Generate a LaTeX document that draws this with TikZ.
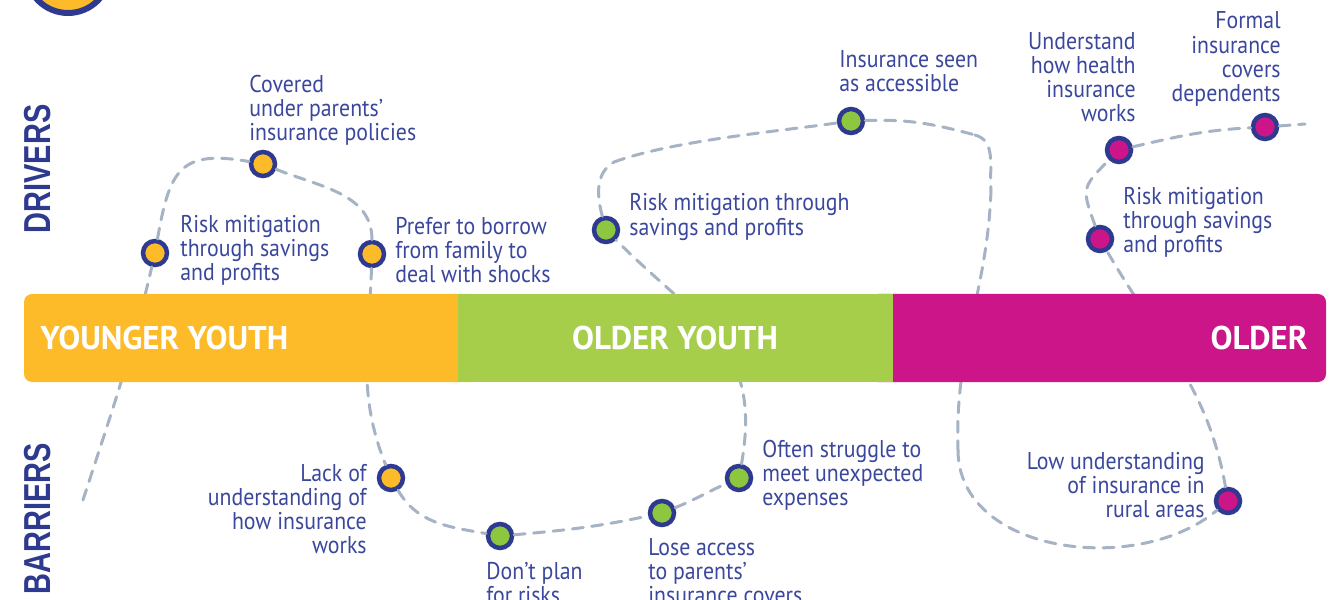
\documentclass[tikz,border=0pt]{standalone}
\usepackage{fontspec}
\setmainfont{PT Sans}[FakeStretch=0.9]
\newfontfamily\bandfont{PT Sans}
\newfontfamily\sidefont{Liberation Sans}[FakeStretch=0.77]
\usepackage{xcolor}
\definecolor{ringblue}{HTML}{2E3A8F}
\definecolor{textblue}{HTML}{3A479C}
\definecolor{dashgray}{HTML}{A5B3C4}
\definecolor{yyellow}{HTML}{FDBB2A}
\definecolor{ggreen}{HTML}{A6CE4B}
\definecolor{dotgreen}{HTML}{8DC63F}
\definecolor{mmagenta}{HTML}{CB1589}

\begin{document}
\begin{tikzpicture}[-, x=0.02cm, y=0.02cm,
  main node/.style={circle, draw=ringblue, line width=0.09cm, minimum size=0.48cm, inner sep=0pt},
  text node/.style={text=textblue, inner sep=0pt, font=\fontsize{13.8}{13.7}\selectfont},
  band node/.style={text=white, inner sep=0pt, font=\bandfont\bfseries\fontsize{18.7}{20}\selectfont},
  side node/.style={text=ringblue, inner sep=0pt, rotate=90, font=\sidefont\bfseries\fontsize{21.4}{24}\selectfont},
  route/.style={color=dashgray, line width=0.06cm, dash pattern=on 0.22cm off 0.17cm, line cap=round}]
\clip (0,0) rectangle (1342,599);
\node[circle, draw=ringblue, fill=yyellow, line width=0.12cm, minimum size=1.68cm] (0) at (68,628) {};
% drivers and barriers
\node[main node, fill=yyellow] (1) at (155,346) {};
\node[main node, fill=yyellow] (2) at (263,435) {};
\node[main node, fill=yyellow] (3) at (372,345) {};
\node[main node, fill=yyellow] (4) at (391,121) {};
\node[main node, fill=dotgreen] (5) at (500,63) {};
\node[main node, fill=dotgreen] (6) at (662,86) {};
\node[main node, fill=dotgreen] (7) at (739,121) {};
\node[main node, fill=dotgreen] (8) at (606,369) {};
\node[main node, fill=dotgreen] (9) at (851,478) {};
\node[main node, fill=mmagenta] (10) at (1228,98) {};
\node[main node, fill=mmagenta] (11) at (1100,360) {};
\node[main node, fill=mmagenta] (12) at (1119,449) {};
\node[main node, fill=mmagenta] (13) at (1265,472) {};
\coordinate (s) at (83,99);
\coordinate (q) at (614,437);
\coordinate (r1) at (975,464);
\coordinate (r2) at (991,409);
\coordinate (r3) at (958,149);
\coordinate (e) at (1305,475);
\path[route]
(s) edge[out=72,in=-103] (1)
(1) edge[out=80,in=170,looseness=1.5] (2)
(2) edge[out=-22,in=90] (3)
(3) edge[out=-92,in=112] (4)
(4) edge[out=-60,in=170] (5)
(5) edge[out=5,in=192] (6)
(6) edge[out=22,in=-156] (7)
(7) edge[out=80,in=-45,looseness=1.2] (8)
(8) edge[out=105,in=-150] (q)
(q) edge[out=20,in=188,looseness=0.7] (9)
(9) edge[out=2,in=165] (r1)
(r1) edge[out=-15,in=95] (r2)
(r2) edge[out=-92,in=92] (r3)
(r3) edge[out=-90,in=-140] (10)
(10) edge[out=100,in=-60] (11)
(11) edge[out=110,in=-135,looseness=1.5] (12)
(12) edge[out=13,in=183] (13)
(13) edge (e);
% age band
\fill[yyellow, rounded corners=0.16cm] (24,217) rectangle (480,305);
\fill[mmagenta, rounded corners=0.16cm] (870,217) rectangle (1326,305);
\fill[ggreen] (458,217) rectangle (893,305);
\node[band node, anchor=west] (14) at (40,261) {YOUNGER YOUTH};
\node[band node] (15) at (675,261) {OLDER YOUTH};
\node[band node, anchor=east] (16) at (1308,261) {OLDER};
% labels
\node[text node, anchor=west, align=left] (17) at (180,349) {Risk mitigation\\through savings\\and profits};
\node[text node, anchor=west, align=left] (18) at (249,489) {Covered\\under parents’\\insurance policies};
\node[text node, anchor=west, align=left] (19) at (395,349) {Prefer to borrow\\from family to\\deal with shocks};
\node[text node, anchor=west, align=left] (20) at (629,382) {Risk mitigation through\\savings and profits};
\node[text node, anchor=west, align=left] (21) at (839,528) {Insurance seen\\as accessible};
\node[text node, anchor=east, align=right] (22) at (1136,522) {Understand\\how health\\insurance\\works};
\node[text node, anchor=east, align=right] (23) at (1281,540) {Formal\\insurance\\covers\\dependents};
\node[text node, anchor=west, align=left] (24) at (1123,377) {Risk mitigation\\through savings\\and profits};
\node[text node, anchor=east, align=right] (25) at (367,90) {Lack of\\understanding of\\how insurance\\works};
\node[text node, anchor=west, align=left] (26) at (486,16) {Don’t plan\\for risks};
\node[text node, anchor=west, align=left] (27) at (648,28) {Lose access\\to parents’\\insurance covers};
\node[text node, anchor=west, align=left] (28) at (762,124) {Often struggle to\\meet unexpected\\expenses};
\node[text node, anchor=east, align=right] (29) at (1205,114) {Low understanding\\of insurance in\\rural areas};
\node[side node] (30) at (38,430) {DRIVERS};
\node[side node] (31) at (38,80) {BARRIERS};
\end{tikzpicture}
\end{document}
